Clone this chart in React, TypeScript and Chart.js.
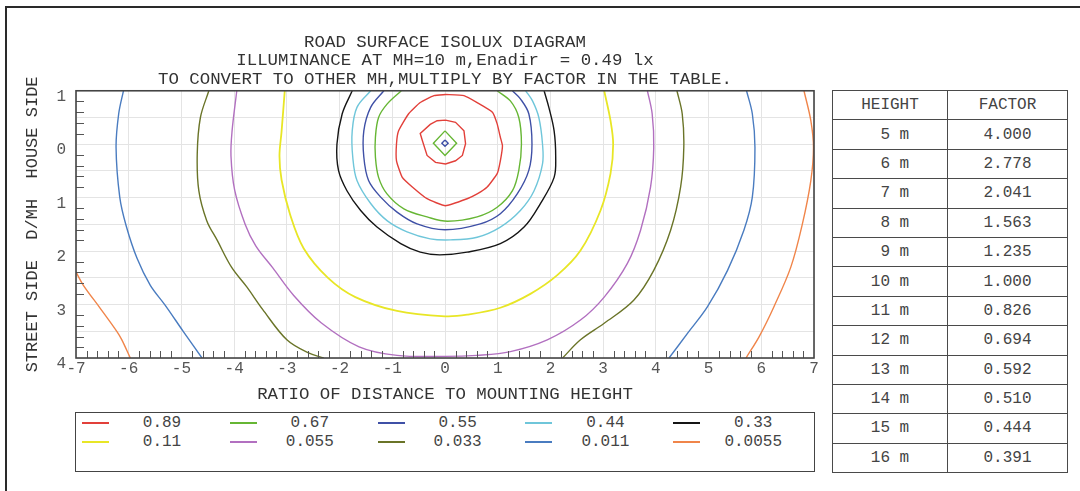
import React, { useEffect, useRef } from 'react';
import { Chart, registerables } from 'chart.js';

Chart.register(...registerables);

type Pt = [number, number];

const FONT = '"Liberation Mono", "DejaVu Sans Mono", monospace';

const TITLE_LINES = [
  'ROAD SURFACE ISOLUX DIAGRAM',
  'ILLUMINANCE AT MH=10 m,Enadir  = 0.49 lx',
  'TO CONVERT TO OTHER MH,MULTIPLY BY FACTOR IN THE TABLE.',
];
const X_TITLE = 'RATIO OF DISTANCE TO MOUNTING HEIGHT';
const Y_TITLE = 'STREET SIDE  D/MH  HOUSE SIDE';

const X_MIN = -7;
const X_MAX = 7;
const Y_MIN = -1; // house side (top)
const Y_MAX = 4; // street side (bottom)

const LEVELS = ['0.89', '0.67', '0.55', '0.44', '0.33', '0.11', '0.055', '0.033', '0.011', '0.0055'];
const LEVEL_COLORS = [
  '#e2403a', '#66b634', '#3f50a6', '#6fc6da', '#151515',
  '#e8e626', '#b270c0', '#6a7428', '#4a7cc0', '#f0854a',
];

// contour polylines, in (D/MH across, D/MH along; + = street side)
const RED_INNER: Pt[] = [
  [0.01, -0.45], [0.2, -0.41], [0.36, -0.25], [0.39, -0.01], [0.33, 0.21], [0.2, 0.31],
  [0.01, 0.37], [-0.18, 0.34], [-0.34, 0.21], [-0.43, -0.07], [-0.47, -0.2], [-0.28, -0.37],
  [-0.15, -0.44], [0.01, -0.45],
];
const RED_OUTER: Pt[] = [
  [0.01, -0.93], [0.36, -0.91], [0.61, -0.78], [0.9, -0.6], [0.99, -0.38], [1.05, -0.13],
  [1.09, 0.03], [1.05, 0.31], [0.99, 0.55], [0.8, 0.8], [0.61, 0.93], [0.42, 1.02],
  [0.01, 1.15], [-0.34, 1.02], [-0.62, 0.8], [-0.81, 0.62], [-0.92, 0.31], [-0.92, -0.01],
  [-0.88, -0.25], [-0.69, -0.57], [-0.47, -0.78], [-0.21, -0.91], [0.01, -0.93],
];
const GREEN_DIAMOND: Pt[] = [[0, -0.25], [0.22, -0.02], [0, 0.21], [-0.22, -0.02], [0, -0.25]];
const GREEN_RING: Pt[] = [
  [-0.83, -1.0], [-1.1, -0.75], [-1.26, -0.5], [-1.32, -0.13], [-1.32, 0.24], [-1.26, 0.62],
  [-1.1, 0.93], [-0.78, 1.21], [-0.34, 1.36], [0.05, 1.44], [0.61, 1.36], [0.99, 1.18],
  [1.28, 0.87], [1.4, 0.49], [1.45, 0], [1.4, -0.5], [1.24, -0.81], [0.99, -1.0],
];
const BLUE_DIAMOND: Pt[] = [[0, -0.08], [0.06, -0.02], [0, 0.04], [-0.06, -0.02], [0, -0.08]];
const BLUE_RING: Pt[] = [
  [-1.16, -1.0], [-1.41, -0.69], [-1.54, -0.25], [-1.54, 0.24], [-1.45, 0.68], [-1.22, 0.99],
  [-0.91, 1.27], [-0.53, 1.49], [0, 1.6], [0.67, 1.49], [1.05, 1.3], [1.37, 0.93],
  [1.59, 0.49], [1.65, 0], [1.59, -0.57], [1.43, -0.85], [1.28, -1.0],
];
const CYAN_RING: Pt[] = [
  [-1.41, -1.0], [-1.67, -0.69], [-1.76, -0.25], [-1.75, 0.24], [-1.67, 0.68], [-1.41, 1.11],
  [-1.1, 1.43], [-0.72, 1.64], [-0.28, 1.77], [0.1, 1.79], [0.61, 1.74], [1.05, 1.55],
  [1.43, 1.24], [1.69, 0.87], [1.85, 0.37], [1.85, 0], [1.78, -0.5], [1.66, -0.81], [1.53, -1.0],
];
const BLACK_RING: Pt[] = [
  [-1.76, -1.0], [-1.95, -0.57], [-2.05, 0], [-2.02, 0.49], [-1.86, 0.87], [-1.6, 1.24],
  [-1.29, 1.55], [-0.84, 1.86], [-0.47, 2.02], [-0.1, 2.07], [0.42, 2.02], [1.05, 1.86],
  [1.5, 1.55], [1.81, 1.11], [2.07, 0.62], [2.1, 0.24], [2.07, -0.25], [1.97, -0.69], [1.88, -1.0],
];
const YELLOW_ARC: Pt[] = [
  [-3.04, -1.0], [-3.1, -0.24], [-3.14, 0.22], [-3.1, 0.67], [-2.94, 1.31], [-2.68, 1.95],
  [-2.22, 2.5], [-1.7, 2.86], [-0.91, 3.12], [0, 3.22], [0.42, 3.19], [1.05, 3.06],
  [1.62, 2.8], [2.13, 2.45], [2.57, 1.99], [2.95, 1.24], [3.14, 0.55], [3.19, 0],
  [3.14, -0.44], [3.02, -1.0],
];
const PURPLE_ARC: Pt[] = [
  [-3.95, -1.0], [-4.04, -0.24], [-4.06, 0.22], [-3.99, 0.86], [-3.79, 1.5], [-3.59, 1.9],
  [-3.27, 2.31], [-2.87, 2.83], [-2.35, 3.34], [-1.63, 3.79], [-0.91, 3.95], [0, 3.97],
  [0.61, 3.95], [1.24, 3.88], [1.94, 3.66], [2.57, 3.29], [3.02, 2.86], [3.46, 2.23],
  [3.71, 1.61], [3.9, 0.8], [3.96, 0.06], [3.93, -0.57], [3.84, -1.0],
];
const OLIVE_LEFT: Pt[] = [
  [-4.48, -1.0], [-4.64, -0.5], [-4.7, 0.18], [-4.67, 0.87], [-4.52, 1.43], [-4.32, 1.8],
  [-4.05, 2.3], [-3.76, 2.67], [-3.46, 3.09], [-3.0, 3.66], [-2.6, 3.9], [-2.3, 4.0],
];
const OLIVE_RIGHT: Pt[] = [
  [4.4, -1.0], [4.5, -0.57], [4.53, 0.06], [4.47, 0.8], [4.28, 1.61], [3.96, 2.36],
  [3.58, 2.92], [3.02, 3.35], [2.57, 3.66], [2.23, 4.0],
];
const STEEL_LEFT: Pt[] = [
  [-6.1, -1.0], [-6.19, -0.57], [-6.24, 0.06], [-6.17, 0.99], [-6.05, 1.52], [-5.84, 2.14],
  [-5.59, 2.64], [-5.31, 3.01], [-4.96, 3.51], [-4.61, 4.0],
];
const STEEL_RIGHT: Pt[] = [
  [5.72, -1.0], [5.83, -0.57], [5.88, 0.06], [5.83, 0.99], [5.67, 1.61], [5.36, 2.36],
  [4.98, 3.04], [4.6, 3.54], [4.25, 4.0],
];
const ORANGE_LEFT: Pt[] = [
  [-7.0, 2.39], [-6.86, 2.64], [-6.54, 3.07], [-6.22, 3.51], [-6.13, 3.66], [-5.97, 4.0],
];
const ORANGE_RIGHT: Pt[] = [
  [6.81, -1.0], [6.94, -0.44], [6.99, 0.06], [6.94, 0.68], [6.78, 1.49], [6.56, 2.3],
  [6.24, 3.04], [5.96, 3.6], [5.71, 4.0],
];

// each curve: [level index, points]
const CURVES: [number, Pt[]][] = [
  [0, RED_INNER], [0, RED_OUTER],
  [1, GREEN_DIAMOND], [1, GREEN_RING],
  [2, BLUE_DIAMOND], [2, BLUE_RING],
  [3, CYAN_RING],
  [4, BLACK_RING],
  [5, YELLOW_ARC],
  [6, PURPLE_ARC],
  [7, OLIVE_LEFT], [7, OLIVE_RIGHT],
  [8, STEEL_LEFT], [8, STEEL_RIGHT],
  [9, ORANGE_LEFT], [9, ORANGE_RIGHT],
];
const SHARP_CURVES = [RED_INNER, GREEN_DIAMOND, BLUE_DIAMOND];

const TABLE_HEAD = ['HEIGHT', 'FACTOR'];
const HEIGHTS = [5, 6, 7, 8, 9, 10, 11, 12, 13, 14, 15, 16];
const FACTORS = [4.0, 2.778, 2.041, 1.563, 1.235, 1.0, 0.826, 0.694, 0.592, 0.51, 0.444, 0.391];

const MINOR_STEP = 0.2;

const innerTicks = {
  id: 'innerTicks',
  afterDraw(chart: any) {
    const { ctx, chartArea: a, scales } = chart;
    const xs = scales.x;
    const ys = scales.y;
    ctx.save();
    ctx.strokeStyle = '#555';
    ctx.lineWidth = 1;
    ctx.beginPath();
    const nx = Math.round((X_MAX - X_MIN) / MINOR_STEP);
    for (let i = 1; i < nx; i++) {
      if (i % 5 === 0) continue;
      const px = Math.round(xs.getPixelForValue(X_MIN + i * MINOR_STEP)) + 0.5;
      ctx.moveTo(px, a.bottom);
      ctx.lineTo(px, a.bottom - 7);
    }
    const ny = Math.round((Y_MAX - Y_MIN) / MINOR_STEP);
    for (let i = 1; i < ny; i++) {
      if (i % 5 === 0) continue;
      const py = Math.round(ys.getPixelForValue(Y_MIN + i * MINOR_STEP)) + 0.5;
      ctx.moveTo(a.left, py);
      ctx.lineTo(a.left + 8, py);
    }
    ctx.stroke();
    ctx.lineWidth = 1.6;
    ctx.strokeStyle = '#444';
    ctx.strokeRect(a.left, a.top, a.right - a.left, a.bottom - a.top);
    ctx.restore();
  },
};

function IsoluxChart() {
  const ref = useRef<HTMLCanvasElement | null>(null);
  useEffect(() => {
    if (!ref.current) return;
    const datasets = CURVES.map(([lvl, pts]) => ({
      label: LEVELS[lvl],
      data: pts.map(([x, y]) => ({ x, y })),
      showLine: true,
      borderColor: LEVEL_COLORS[lvl],
      backgroundColor: LEVEL_COLORS[lvl],
      borderWidth: lvl === 5 ? 1.8 : 1.4,
      pointRadius: 0,
      tension: SHARP_CURVES.includes(pts) ? 0 : pts === RED_OUTER ? 0.15 : 0.35,
      fill: false,
    }));
    const chart = new Chart(ref.current, {
      type: 'scatter',
      data: { datasets },
      plugins: [innerTicks],
      options: {
        responsive: false,
        animation: false,
        layout: { padding: { left: 15, right: 8, top: 0, bottom: 0 } },
        plugins: {
          legend: { display: false },
          tooltip: { enabled: false },
          title: {
            display: true,
            fullSize: false,
            text: TITLE_LINES,
            color: '#333',
            font: { family: FONT, size: 17.4, weight: 'normal', lineHeight: 1.08 },
            padding: { top: 32.6, bottom: 1.8 },
          },
        },
        scales: {
          x: {
            type: 'linear',
            min: X_MIN,
            max: X_MAX,
            ticks: {
              stepSize: 1,
              padding: 1,
              color: '#555',
              autoSkip: false,
              maxRotation: 0,
              font: { family: FONT, size: 16 },
              callback: (v: any) => String(v),
            },
            grid: { color: '#e4e4e4', drawTicks: false },
            border: { display: false },
            title: {
              display: true,
              text: X_TITLE,
              color: '#333',
              font: { family: FONT, size: 17.4 },
              padding: { top: 4, bottom: 5 },
            },
            afterFit: (s: any) => {
              s.height = 52;
            },
          },
          y: {
            type: 'linear',
            reverse: true,
            min: Y_MIN,
            max: Y_MAX,
            ticks: {
              stepSize: 0.5,
              padding: 10,
              labelOffset: 6,
              color: '#555',
              autoSkip: false,
              font: { family: FONT, size: 16 },
              callback: (v: any) => (Number.isInteger(v) ? String(Math.abs(v)) : ''),
            },
            grid: { color: '#e4e4e4', drawTicks: false },
            border: { display: false },
            title: {
              display: true,
              text: Y_TITLE,
              color: '#333',
              font: { family: FONT, size: 17 },
              padding: { top: 7, bottom: 7 },
            },
            afterFit: (s: any) => {
              s.width = 61;
            },
          },
        },
      } as any,
    });
    return () => chart.destroy();
  }, []);
  return (
    <canvas
      ref={ref}
      width={822}
      height={410}
      style={{ position: 'absolute', left: 0, top: 0, width: 822, height: 410 }}
    />
  );
}

export default function App() {
  const cell: React.CSSProperties = {
    border: '1px solid #4a4a4a',
    textAlign: 'center',
    padding: 0,
    height: 28.4,
    whiteSpace: 'pre',
  };
  return (
    <div
      style={{
        position: 'fixed',
        left: 0,
        top: 0,
        width: 1080,
        height: 491,
        overflow: 'hidden',
        background: '#fff',
        fontFamily: FONT,
      }}
    >
      <div
        style={{
          position: 'absolute',
          left: 5,
          top: 6,
          width: 1200,
          height: 700,
          borderTop: '2px solid #2a2a2a',
          borderLeft: '2px solid #2a2a2a',
        }}
      />
      <IsoluxChart />
      <table
        style={{
          position: 'absolute',
          left: 832,
          top: 90,
          width: 236,
          borderCollapse: 'collapse',
          fontSize: 16,
          color: '#444',
          fontFamily: FONT,
        }}
      >
        <tbody>
          <tr>
            <td style={{ ...cell, width: 114 }}>{TABLE_HEAD[0]}</td>
            <td style={cell}>{TABLE_HEAD[1]}</td>
          </tr>
          {HEIGHTS.map((h, i) => (
            <tr key={h}>
              <td style={{ ...cell, width: 114 }}>{`${String(h).padStart(2, ' ')} m`}</td>
              <td style={cell}>{FACTORS[i].toFixed(3)}</td>
            </tr>
          ))}
        </tbody>
      </table>
      <div
        style={{
          position: 'absolute',
          left: 75,
          top: 412,
          width: 740,
          height: 60,
          border: '1px solid #444',
          boxSizing: 'border-box',
        }}
      >
        {LEVELS.map((lab, i) => {
          const col = i % 5;
          const row = Math.floor(i / 5);
          return (
            <React.Fragment key={lab}>
              <div
                style={{
                  position: 'absolute',
                  left: 6 + 147.8 * col,
                  top: 9 + 19 * row,
                  width: 27,
                  height: 2,
                  background: LEVEL_COLORS[i],
                }}
              />
              <div
                style={{
                  position: 'absolute',
                  left: 46 + 147.8 * col,
                  top: 1 + 19 * row,
                  width: 80,
                  lineHeight: '18px',
                  textAlign: 'center',
                  fontSize: 16,
                  color: '#444',
                }}
              >
                {lab}
              </div>
            </React.Fragment>
          );
        })}
      </div>
    </div>
  );
}
